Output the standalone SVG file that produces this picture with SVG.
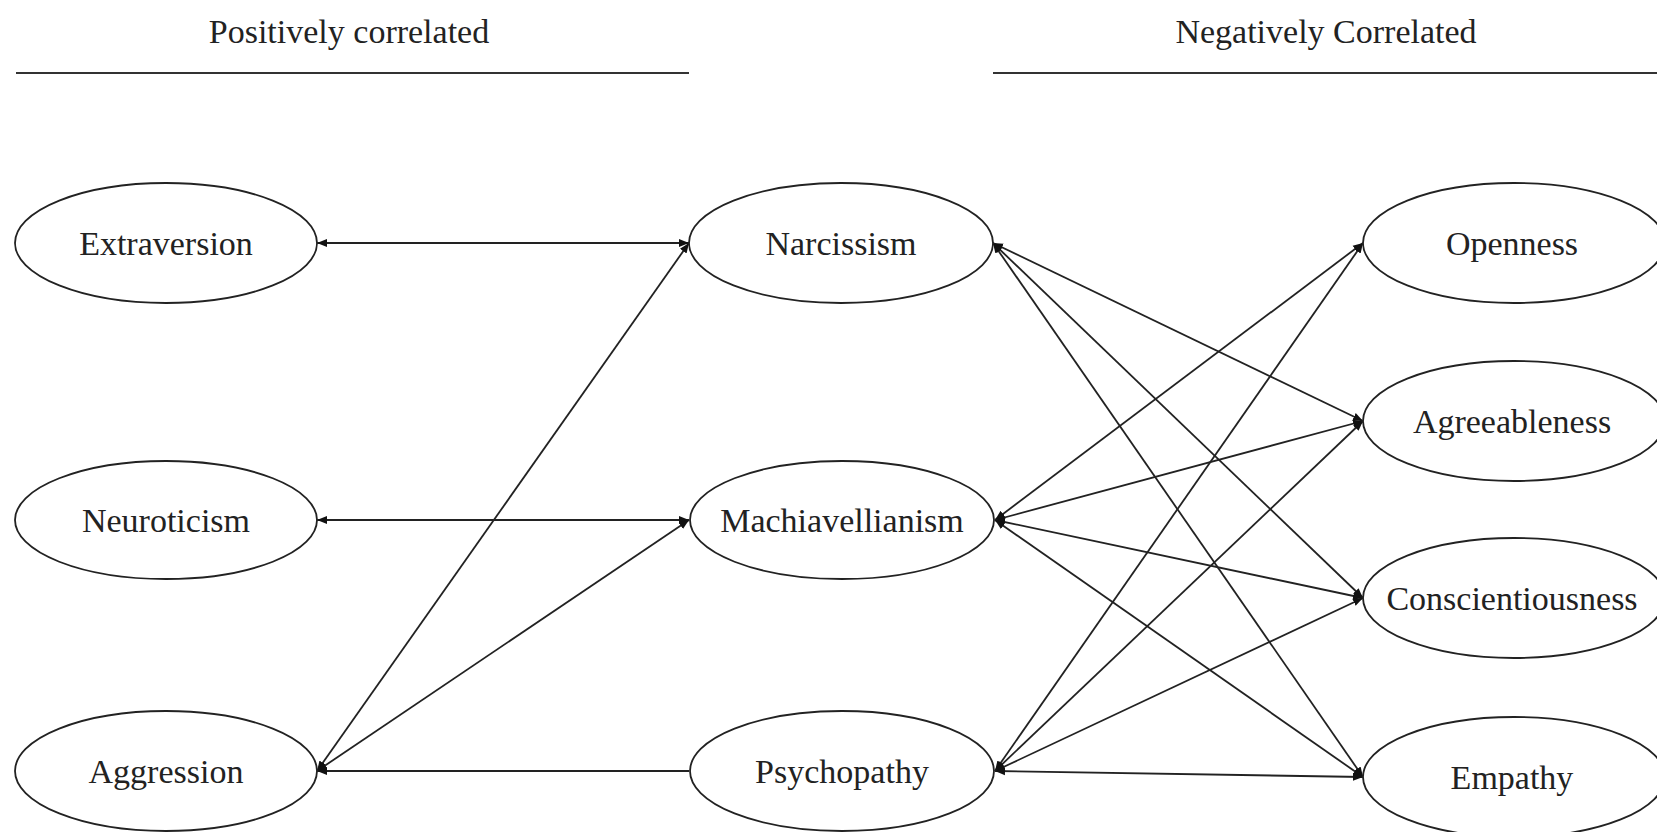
<svg xmlns="http://www.w3.org/2000/svg" width="1657" height="832" viewBox="0 0 1657 832">
<style>
.n ellipse{fill:#fff;stroke:#222;stroke-width:1.8}
text{font-family:"Liberation Serif","Times New Roman",serif;font-size:34px;fill:#222;text-anchor:middle}
#connectors line{stroke:#222;stroke-width:1.8;fill:none}
.rule{stroke:#333;stroke-width:2}
</style>
<defs>
<marker id="ah" viewBox="0 0 10 10" refX="10" refY="5" markerWidth="10" markerHeight="10" markerUnits="userSpaceOnUse" orient="auto-start-reverse">
<path d="M0,1 L10,5 L0,9 Z" fill="#111"/>
</marker>
</defs>
<rect width="1657" height="832" fill="#fff"/>
<g id="headers">
<text x="349" y="43">Positively correlated</text>
<line class="rule" x1="16" y1="73" x2="689" y2="73"/>
<text x="1326" y="43">Negatively Correlated</text>
<line class="rule" x1="993" y1="73" x2="1657" y2="73"/>
</g>
<g id="connectors">
<line x1="317" y1="243" x2="689" y2="243" marker-start="url(#ah)" marker-end="url(#ah)"/>
<line x1="317" y1="520" x2="689" y2="520" marker-start="url(#ah)" marker-end="url(#ah)"/>
<line x1="689" y1="771" x2="317" y2="771" marker-end="url(#ah)"/>
<line x1="317" y1="771" x2="689" y2="243" marker-start="url(#ah)" marker-end="url(#ah)"/>
<line x1="317" y1="771" x2="689" y2="520" marker-start="url(#ah)" marker-end="url(#ah)"/>
<line x1="993" y1="243" x2="1363" y2="421" marker-start="url(#ah)" marker-end="url(#ah)"/>
<line x1="993" y1="243" x2="1363" y2="598" marker-start="url(#ah)" marker-end="url(#ah)"/>
<line x1="993" y1="243" x2="1363" y2="777" marker-start="url(#ah)" marker-end="url(#ah)"/>
<line x1="995" y1="520" x2="1363" y2="243" marker-start="url(#ah)" marker-end="url(#ah)"/>
<line x1="995" y1="520" x2="1363" y2="421" marker-start="url(#ah)" marker-end="url(#ah)"/>
<line x1="995" y1="520" x2="1363" y2="598" marker-start="url(#ah)" marker-end="url(#ah)"/>
<line x1="995" y1="520" x2="1363" y2="777" marker-start="url(#ah)" marker-end="url(#ah)"/>
<line x1="995" y1="771" x2="1363" y2="243" marker-start="url(#ah)" marker-end="url(#ah)"/>
<line x1="995" y1="771" x2="1363" y2="421" marker-start="url(#ah)" marker-end="url(#ah)"/>
<line x1="995" y1="771" x2="1363" y2="598" marker-start="url(#ah)" marker-end="url(#ah)"/>
<line x1="995" y1="771" x2="1363" y2="777" marker-start="url(#ah)" marker-end="url(#ah)"/>
</g>
<g id="extraversion" class="n"><ellipse cx="166" cy="243" rx="151" ry="60"/><text x="166" y="255">Extraversion</text></g>
<g id="neuroticism" class="n"><ellipse cx="166" cy="520" rx="151" ry="59"/><text x="166" y="532">Neuroticism</text></g>
<g id="aggression" class="n"><ellipse cx="166" cy="771" rx="151" ry="60"/><text x="166" y="783">Aggression</text></g>
<g id="narcissism" class="n"><ellipse cx="841" cy="243" rx="152" ry="60"/><text x="841" y="255">Narcissism</text></g>
<g id="machiavellianism" class="n"><ellipse cx="842" cy="520" rx="152" ry="59"/><text x="842" y="532">Machiavellianism</text></g>
<g id="psychopathy" class="n"><ellipse cx="842" cy="771" rx="152" ry="60"/><text x="842" y="783">Psychopathy</text></g>
<g id="openness" class="n"><ellipse cx="1514" cy="243" rx="151" ry="60"/><text x="1512" y="255">Openness</text></g>
<g id="agreeableness" class="n"><ellipse cx="1514" cy="421" rx="151" ry="60"/><text x="1512" y="433">Agreeableness</text></g>
<g id="conscientiousness" class="n"><ellipse cx="1514" cy="598" rx="151" ry="60"/><text x="1512" y="610">Conscientiousness</text></g>
<g id="empathy" class="n"><ellipse cx="1514" cy="777" rx="151" ry="60"/><text x="1512" y="789">Empathy</text></g>
</svg>
